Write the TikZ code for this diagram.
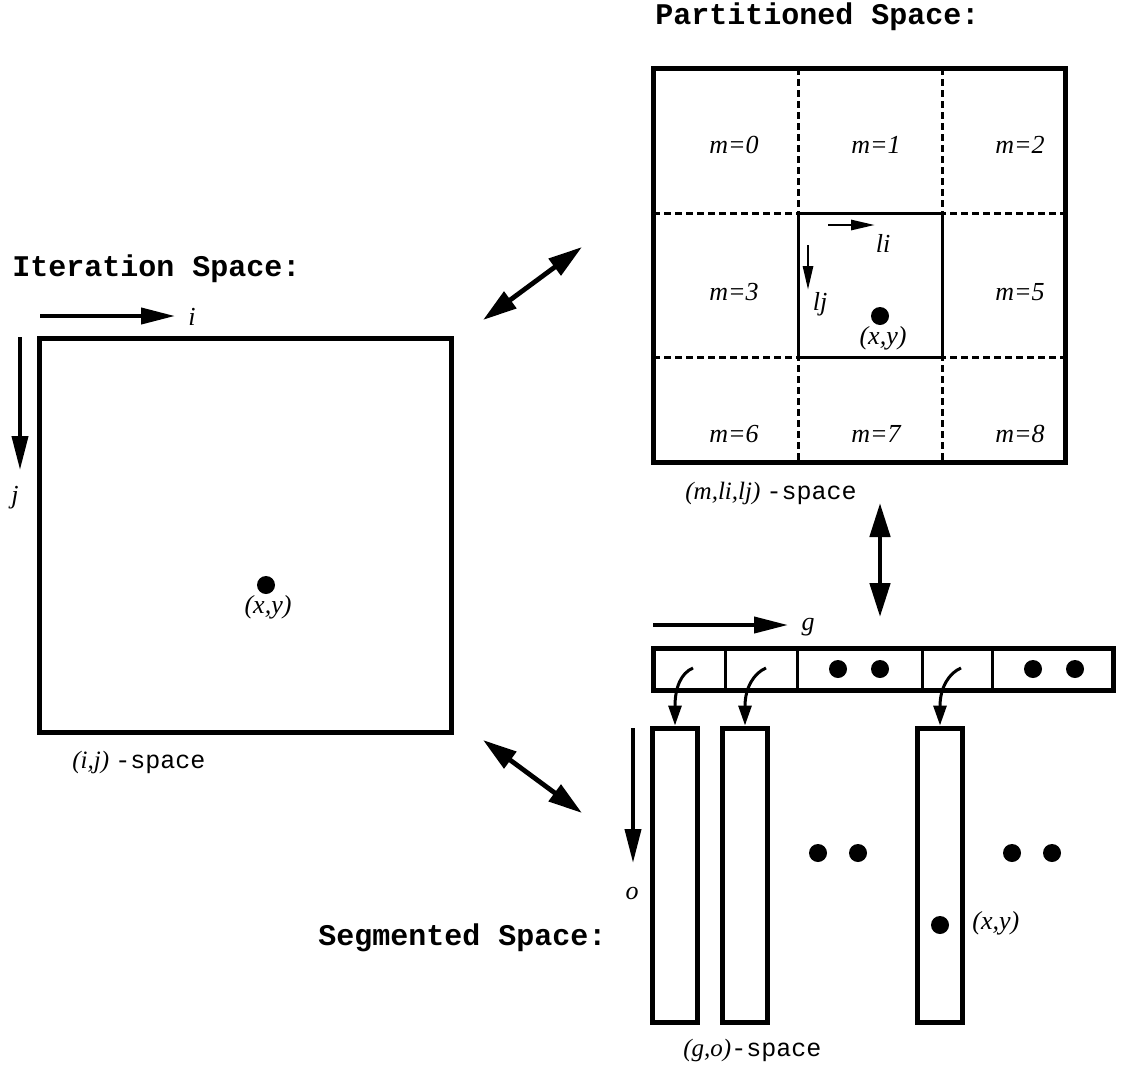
\documentclass[tikz,border=0pt]{standalone}
\usepackage{fontspec}
\setmainfont{Liberation Serif}
\setmonofont{Liberation Mono}
\usetikzlibrary{arrows.meta,positioning}

\tikzset{
  spacebox/.style={draw,line width=2.5pt,inner sep=0pt,minimum width=206pt,minimum height=197pt},
  homebox/.style={draw,line width=1.5pt,inner sep=0pt,minimum width=72pt,minimum height=72pt},
  stripbox/.style={draw,line width=2.5pt,inner sep=0pt,minimum width=230pt,minimum height=21pt},
  segbox/.style={draw,line width=2.5pt,inner sep=0pt,minimum width=22.5pt,minimum height=147pt},
  griddash/.style={line width=1.5pt,dash pattern=on 3.5pt off 2pt},
  dot/.style={circle,fill,inner sep=0pt,minimum size=9pt},
  title/.style={font=\fontsize{15}{17}\selectfont\ttfamily\bfseries,inner sep=0pt,anchor=west},
  lbl/.style={font=\fontsize{13}{15}\selectfont\itshape,inner sep=0pt},
  spacelbl/.style={font=\fontsize{12.5}{15}\selectfont,inner sep=0pt,anchor=west},
  axisarrow/.style={line width=2pt,-{Triangle[length=17pt,width=8pt]}},
  localarrow/.style={line width=1.4pt,-{Triangle[length=12pt,width=5pt]}},
  maparrow/.style={line width=2.4pt,{Triangle[length=17pt,width=10pt]}-{Triangle[length=17pt,width=10pt]}},
  segarrow/.style={line width=1.5pt,-{Triangle[length=10pt,width=6.5pt]}}
}

\begin{document}
\begin{tikzpicture}[x=0.5pt,y=-0.5pt]
  \useasboundingbox (0,0) rectangle (1124,1066);

  % iteration space
  \node[title] (itertitle) at (12,269) {Iteration Space:};
  \node[spacebox] (iter) at (245,535) {};
  \coordinate (istart) at (40,316);
  \coordinate (iend) at (175,316);
  \draw[axisarrow] (istart) -- (iend);
  \node[lbl] (ilbl) at (192,317) {i};
  \coordinate (jstart) at (20,337);
  \coordinate (jend) at (20,470);
  \draw[axisarrow] (jstart) -- (jend);
  \node[lbl] (jlbl) at (15,498) {j};
  \node[dot] (iterpt) at (266,585) {};
  \node[lbl] (iterptlbl) at (268,607) {(x,y)};
  \node[spacelbl] (iterspace) at (72,762) {{\itshape (i,j)} {\ttfamily -space}};

  % partitioned space
  \node[title] (parttitle) at (655,17) {Partitioned Space:};
  \node[spacebox] (part) at (859,265) {};
  \draw[griddash] (798,68) -- (798,462);
  \draw[griddash] (942,68) -- (942,462);
  \draw[griddash] (653,213) -- (1065,213);
  \draw[griddash] (653,357) -- (1065,357);
  \node[homebox,fill=white] (home) at (870,285) {};
  \node[lbl] (m0) at (734,145) {m=0};
  \node[lbl] (m1) at (876,145) {m=1};
  \node[lbl] (m2) at (1020,145) {m=2};
  \node[lbl] (m3) at (734,292) {m=3};
  \node[lbl] (m5) at (1020,292) {m=5};
  \node[lbl] (m6) at (734,434) {m=6};
  \node[lbl] (m7) at (876,434) {m=7};
  \node[lbl] (m8) at (1020,434) {m=8};
  \coordinate (listart) at (828,225);
  \coordinate (liend) at (875,225);
  \draw[localarrow] (listart) -- (liend);
  \node[lbl] (lilbl) at (883,243) {li};
  \coordinate (ljstart) at (808,245);
  \coordinate (ljend) at (808,290);
  \draw[localarrow] (ljstart) -- (ljend);
  \node[lbl] (ljlbl) at (820,304) {lj};
  \node[dot] (partpt) at (880,316) {};
  \node[lbl] (partptlbl) at (883,338) {(x,y)};
  \node[spacelbl] (partspace) at (685,493) {{\itshape (m,li,lj)} {\ttfamily -space}};

  % segmented space
  \node[title] (segtitle) at (318,938) {Segmented Space:};
  \coordinate (gstart) at (653,625);
  \coordinate (gend) at (788,625);
  \draw[axisarrow] (gstart) -- (gend);
  \node[lbl] (glbl) at (808,627) {g};
  \node[stripbox] (strip) at (883,669) {};
  \foreach \x in {725,797,922,992}
    \draw[line width=1.5pt] (\x,648) -- (\x,690);
  \foreach \x in {838,880,1033,1075}
    \node[dot] at (\x,669) {};
  \node[segbox] (segA) at (675,875) {};
  \node[segbox] (segB) at (745,875) {};
  \node[segbox] (segC) at (940,875) {};
  \coordinate (cellA) at (693,668);
  \coordinate (cellB) at (766,668);
  \coordinate (cellC) at (961,668);
  \draw[segarrow] (cellA) .. controls +(-12,5) and +(0,-38) .. (segA.north);
  \draw[segarrow] (cellB) .. controls +(-12,5) and +(0,-38) .. (segB.north);
  \draw[segarrow] (cellC) .. controls +(-12,5) and +(0,-38) .. (segC.north);
  \foreach \x in {818,858,1012,1052}
    \node[dot] at (\x,853) {};
  \node[dot] (segpt) at (940,925) {};
  \node[lbl,anchor=west] (segptlbl) at (972,923) {(x,y)};
  \coordinate (ostart) at (633,728);
  \coordinate (oend) at (633,863);
  \draw[axisarrow] (ostart) -- (oend);
  \node[lbl] (olbl) at (632,893) {o};
  \node[spacelbl] (segspace) at (683,1050) {{\itshape (g,o)}{\ttfamily -space}};

  % mappings between the spaces
  \coordinate (iterPart) at (483,320);
  \coordinate (partIter) at (582,247);
  \draw[maparrow] (iterPart) -- (partIter);
  \coordinate (iterSeg) at (483,740);
  \coordinate (segIter) at (582,813);
  \draw[maparrow] (iterSeg) -- (segIter);
  \coordinate (partSeg) at (880,503);
  \coordinate (segPart) at (880,617);
  \draw[maparrow] (partSeg) -- (segPart);
\end{tikzpicture}
\end{document}
